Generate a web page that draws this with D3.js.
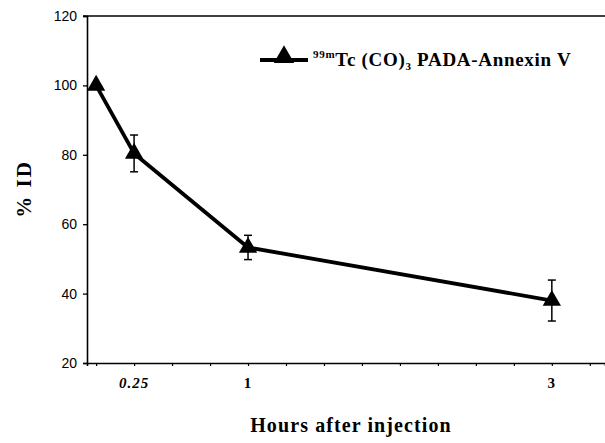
<!DOCTYPE html>
<html>
<head>
<meta charset="utf-8">
<script src="https://cdn.jsdelivr.net/npm/d3@7"></script>
<style>
  body { margin: 0; background: #fff; }
  svg { display: block; }
</style>
</head>
<body>
<svg id="chart"></svg>
<script>
// data
const hours = [0, 0.25, 1, 3];
const pctID = [100, 80.4, 53.3, 38];
const pctSD = [0, 5.3, 3.5, 5.9];
const xTickVals = [0.25, 1, 3];
const xTickLabels = ['0.25', '1', '3'];
const yTickVals = [20, 40, 60, 80, 100, 120];
const seriesName = 'Tc (CO)';

const width = 605, height = 443;
const svg = d3.select('#chart').attr('width', width).attr('height', height);

const serif = '"Liberation Serif", "Times New Roman", serif';
const sans = '"Liberation Sans", Arial, sans-serif';

// scales
const x = d3.scaleLinear().domain([-0.06, 3.35]).range([87, 605]);
const y = d3.scaleLinear().domain([20, 120]).range([363, 16]);

// y axis
const yAxis = d3.axisLeft(y).tickValues(yTickVals).tickSize(4).tickPadding(6);
const gy = svg.append('g').attr('transform', 'translate(87,0)').call(yAxis);
gy.select('.domain').attr('stroke-width', 1.6);
gy.selectAll('.tick line').attr('stroke-width', 1.3);
gy.selectAll('.tick text')
  .attr('font-family', sans).attr('font-size', 14).attr('fill', '#000');

// x axis - minor ticks every quarter hour, labels only at sampled times
const xAxis = d3.axisBottom(x).tickValues(d3.range(0, 3.3, 0.25)).tickSize(3).tickFormat('');
const gx = svg.append('g').attr('transform', 'translate(0,363)').call(xAxis);
gx.select('.domain').attr('stroke-width', 1.6);
gx.selectAll('.tick line').attr('stroke-width', 1.2);

svg.append('g').selectAll('text')
  .data(xTickVals)
  .enter()
  .append('text')
    .attr('x', d => x(d))
    .attr('y', 388)
    .attr('text-anchor', 'middle')
    .attr('font-family', serif)
    .attr('font-weight', 'bold')
    .attr('font-style', (d, i) => i === 0 ? 'italic' : 'normal')
    .attr('font-size', 15)
    .attr('letter-spacing', 1)
    .text((d, i) => xTickLabels[i]);

// top frame line
svg.append('line')
  .attr('x1', 83).attr('x2', 605)
  .attr('y1', y(120)).attr('y2', y(120))
  .attr('stroke', '#000').attr('stroke-width', 1.6);

// axis titles
svg.append('text')
  .attr('x', 351).attr('y', 432)
  .attr('text-anchor', 'middle')
  .attr('font-family', serif).attr('font-weight', 'bold').attr('font-size', 20)
  .attr('letter-spacing', 1.1)
  .text('Hours after injection');

svg.append('text')
  .attr('transform', 'translate(31,189) rotate(-90)')
  .attr('text-anchor', 'middle')
  .attr('font-family', serif).attr('font-weight', 'bold').attr('font-size', 21)
  .attr('letter-spacing', 2)
  .text('% ID');

// error bars
const pts = hours.map((h, i) => ({h: h, v: pctID[i], sd: pctSD[i]}));
const eb = svg.append('g').attr('stroke', '#000').attr('stroke-width', 1.5);
pts.filter(d => d.sd > 0).forEach(d => {
  eb.append('line').attr('x1', x(d.h)).attr('x2', x(d.h))
    .attr('y1', y(d.v + d.sd)).attr('y2', y(d.v - d.sd));
  [d.v + d.sd, d.v - d.sd].forEach(v => {
    eb.append('line').attr('x1', x(d.h) - 4).attr('x2', x(d.h) + 4)
      .attr('y1', y(v)).attr('y2', y(v));
  });
});

// line
const line = d3.line().x(d => x(d.h)).y(d => y(d.v));
svg.append('path')
  .datum(pts)
  .attr('d', line)
  .attr('fill', 'none')
  .attr('stroke', '#000')
  .attr('stroke-width', 3.8)
  .attr('stroke-linejoin', 'round');

// triangle markers
const tri = d3.symbol().type(d3.symbolTriangle).size(145);
svg.selectAll('.marker')
  .data(pts)
  .enter()
  .append('path')
    .attr('class', 'marker')
    .attr('d', tri)
    .attr('transform', d => `translate(${x(d.h)},${y(d.v)})`)
    .attr('fill', '#000');

// legend
const lg = svg.append('g');
lg.append('line').attr('x1', 260).attr('x2', 308).attr('y1', 60).attr('y2', 60)
  .attr('stroke', '#000').attr('stroke-width', 3.8);
lg.append('path').attr('d', d3.symbol().type(d3.symbolTriangle).size(180))
  .attr('transform', 'translate(284,57)').attr('fill', '#000');
const lt = lg.append('text')
  .attr('x', 313).attr('y', 66)
  .attr('font-family', serif).attr('font-weight', 'bold').attr('font-size', 19)
  .attr('letter-spacing', 0.7);
lt.append('tspan').attr('font-size', 11).attr('dy', -8).text('99m');
lt.append('tspan').attr('dy', 8).text(seriesName);
lt.append('tspan').attr('font-size', 11).attr('dy', 4).text('3');
lt.append('tspan').attr('dy', -4).text(' PADA-Annexin V');
</script>
</body>
</html>
